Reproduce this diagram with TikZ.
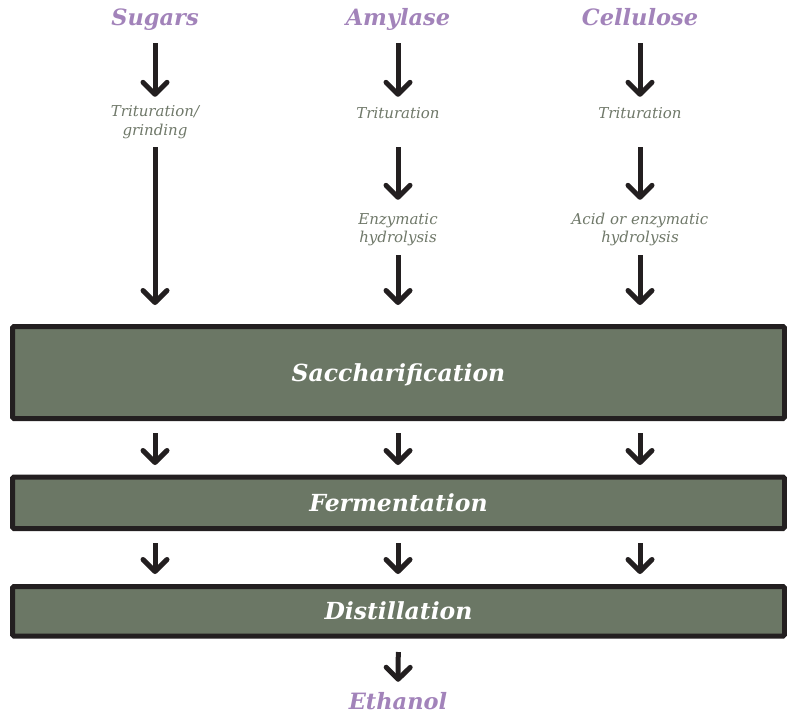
\documentclass[tikz,border=0pt]{standalone}
\usepackage{fontspec}
\setmainfont{DejaVu Serif}
\usetikzlibrary{arrows.meta}
\definecolor{titlec}{HTML}{A283BA}
\definecolor{stepc}{HTML}{6F7869}
\definecolor{boxfill}{HTML}{6B7765}
\definecolor{ink}{HTML}{231F20}
\tikzset{
  title/.style={font=\fontsize{22.5}{22.5}\selectfont\bfseries\itshape, text=titlec,
    inner sep=0pt, minimum height=30pt, text height=16.4pt, text depth=0pt},
  stepone/.style={font=\fontsize{15}{18.5}\selectfont\itshape, text=stepc,
    inner sep=0pt, minimum height=20pt, text height=11pt, text depth=0pt},
  steptwo/.style={font=\fontsize{15}{18.5}\selectfont\itshape, text=stepc,
    inner sep=0pt, minimum height=40pt, align=center},
  stage/.style={draw=ink, line width=5pt, fill=boxfill, rounded corners=1.5pt,
    outer sep=0pt, inner sep=0pt, minimum width=772pt, text=white,
    text height=17.2pt, text depth=0pt,
    font=\fontsize{23.5}{23.5}\selectfont\bfseries\itshape},
  arr/.style={draw=ink, line width=5pt,
    -{Straight Barb[length=12pt, width=24pt, round]}},
}
\begin{document}
\begin{tikzpicture}[x=1pt, y=-1pt]
\useasboundingbox (0,0) rectangle (787,714);

% raw materials
\node[title] (sugars)  at (155,17.5) {Sugars};
\node[title] (amylase) at (398,17.5) {Amylase};
\node[title] (cellul)  at (640,17.5) {Cellulose};

% pretreatment steps
\node[steptwo] (grind)  at (155,122) {Trituration/\\grinding};
\node[stepone] (tritA)  at (398,113) {Trituration};
\node[stepone] (tritC)  at (640,113) {Trituration};
\node[steptwo] (hydA)   at (398,229.5) {Enzymatic\\hydrolysis};
\node[steptwo] (hydC)   at (640,229.5) {Acid or enzymatic\\hydrolysis};

% process stages
\node[stage, minimum height=92pt] (sacc) at (398.5,372.5) {Saccharification};
\node[stage, minimum height=51.5pt] (ferm) at (398.5,502.75) {Fermentation};
\node[stage, minimum height=49.5pt] (dist) at (398.5,611.25) {Distillation};

% product
\node[title] (ethanol) at (398,701) {Ethanol};

% feed arrows
\draw[arr, shorten <=10.5pt, shorten >=5pt] (sugars) -- (grind);
\draw[arr, shorten <=10.5pt, shorten >=6pt] (amylase) -- (tritA);
\draw[arr, shorten <=10.5pt, shorten >=6pt] (cellul) -- (tritC);
\draw[arr, shorten <=5pt, shorten >=21.5pt] (grind.south) -- (sacc.north -| grind.south);
\draw[arr, shorten <=24pt, shorten >=9.5pt] (tritA) -- (hydA);
\draw[arr, shorten <=24pt, shorten >=9.5pt] (tritC) -- (hydC);
\draw[arr, shorten <=5.5pt, shorten >=21.5pt] (hydA.south) -- (sacc.north -| hydA.south);
\draw[arr, shorten <=5.5pt, shorten >=21.5pt] (hydC.south) -- (sacc.north -| hydC.south);

% stage to stage
\foreach \c in {sugars, amylase, cellul} {
  \draw[arr, shorten <=14.5pt, shorten >=12pt] (sacc.south -| \c) -- (ferm.north -| \c);
  \draw[arr, shorten <=14.5pt, shorten >=12.5pt] (ferm.south -| \c) -- (dist.north -| \c);
}
\draw[arr, shorten <=16pt, shorten >=4pt] (dist) -- (ethanol);
\end{tikzpicture}
\end{document}
